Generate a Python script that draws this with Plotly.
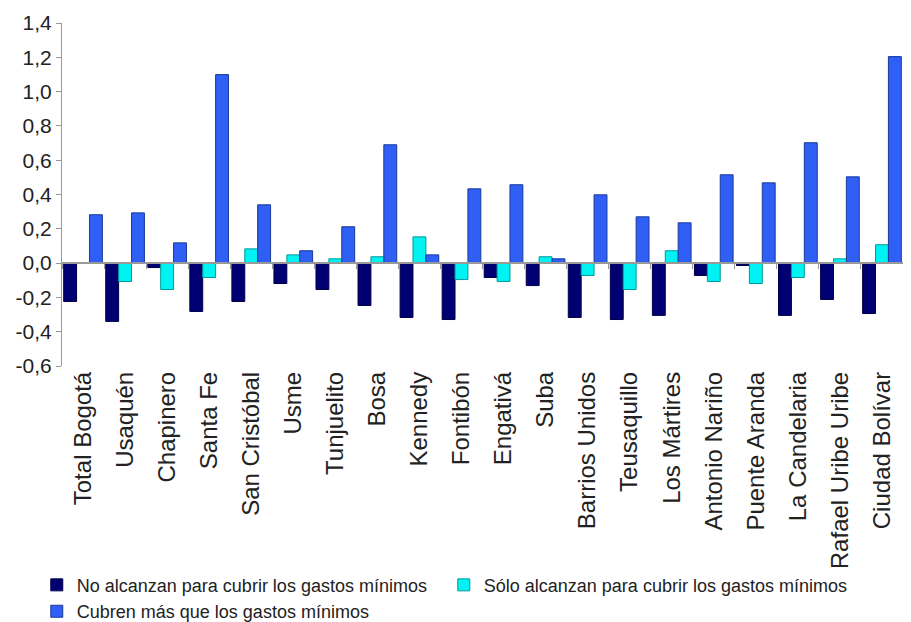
import plotly.graph_objects as go

localidades = ["Total Bogotá", "Usaquén", "Chapinero", "Santa Fe", "San Cristóbal", "Usme",
               "Tunjuelito", "Bosa", "Kennedy", "Fontibón", "Engativá", "Suba",
               "Barrios Unidos", "Teusaquillo", "Los Mártires", "Antonio Nariño",
               "Puente Aranda", "La Candelaria", "Rafael Uribe Uribe", "Ciudad Bolívar"]
no_alcanzan = [-0.224, -0.340, -0.026, -0.282, -0.224, -0.119, -0.154, -0.247, -0.317, -0.329,
               -0.084, -0.131, -0.317, -0.329, -0.305, -0.072, -0.014, -0.305, -0.212, -0.294]
solo_alcanzan = [0.0, -0.107, -0.154, -0.084, 0.083, 0.048, 0.025, 0.037, 0.153, -0.096,
                 -0.107, 0.037, -0.072, -0.154, 0.072, -0.107, -0.119, -0.084, 0.025, 0.107]
cubren_mas = [0.282, 0.293, 0.118, 1.099, 0.340, 0.072, 0.212, 0.690, 0.048, 0.433,
              0.457, 0.025, 0.398, 0.270, 0.235, 0.515, 0.468, 0.702, 0.503, 1.204]
y_ticks = [-0.6, -0.4, -0.2, 0.0, 0.2, 0.4, 0.6, 0.8, 1.0, 1.2, 1.4]
y_ticktext = ["-0,6", "-0,4", "-0,2", "0,0", "0,2", "0,4", "0,6", "0,8", "1,0", "1,2", "1,4"]

NAVY, CYAN, AZUL = "#000073", "#00f2f2", "#2f5ff5"
FONT = "Liberation Sans, Arial, sans-serif"

fig = go.Figure()
fig.add_trace(go.Bar(x=localidades, y=no_alcanzan, name="No alcanzan para cubrir los gastos mínimos",
                     marker=dict(color=NAVY, line=dict(color="#00004a", width=1))))
fig.add_trace(go.Bar(x=localidades, y=solo_alcanzan, name="Sólo alcanzan para cubrir los gastos mínimos",
                     marker=dict(color=CYAN, line=dict(color="#009a9a", width=1))))
fig.add_trace(go.Bar(x=localidades, y=cubren_mas, name="Cubren más que los gastos mínimos",
                     marker=dict(color=AZUL, line=dict(color="#1a3a99", width=1))))
# invisible helper so the category axis at zero shows boundary ticks
fig.add_trace(go.Scatter(x=localidades, y=[0] * len(localidades), xaxis="x2", mode="markers",
                         marker=dict(opacity=0), showlegend=False, hoverinfo="skip"))

n = len(localidades)
# page body has an 8px margin, so the figure must fit inside 895px
fig.update_layout(
    width=895, height=614, template="plotly_white",
    plot_bgcolor="white", paper_bgcolor="white",
    font=dict(family=FONT, size=17, color="#222"),
    margin=dict(l=54, r=0, t=15, b=256, autoexpand=False),
    barmode="group", bargap=0.08, bargroupgap=0,
    xaxis=dict(type="category", categoryarray=localidades, range=[-0.5, n - 0.5],
               tickangle=-90, showgrid=False, showline=False, ticks="", zeroline=False,
               automargin=False, tickfont=dict(size=24, color="#222")),
    xaxis2=dict(type="category", categoryarray=localidades, overlaying="x", matches="x",
                anchor="free", position=0.3, side="bottom", showline=True, linecolor="#999",
                linewidth=1.5, ticks="outside", tickson="boundaries", ticklen=5, tickcolor="#999",
                showticklabels=False, showgrid=False, zeroline=False),
    yaxis=dict(range=[-0.6, 1.4], tickvals=y_ticks, ticktext=y_ticktext, showgrid=False,
               zeroline=False, showline=True, linecolor="#999", linewidth=1, ticks="outside",
               ticklen=5, tickcolor="#999", automargin=False, tickfont=dict(size=21, color="#222")),
    legend=dict(orientation="h", x=-0.03, xanchor="left", y=-0.585, yanchor="top",
                entrywidth=362, font=dict(size=18, color="#222"), traceorder="normal"),
)

fig.write_html("out.html")
